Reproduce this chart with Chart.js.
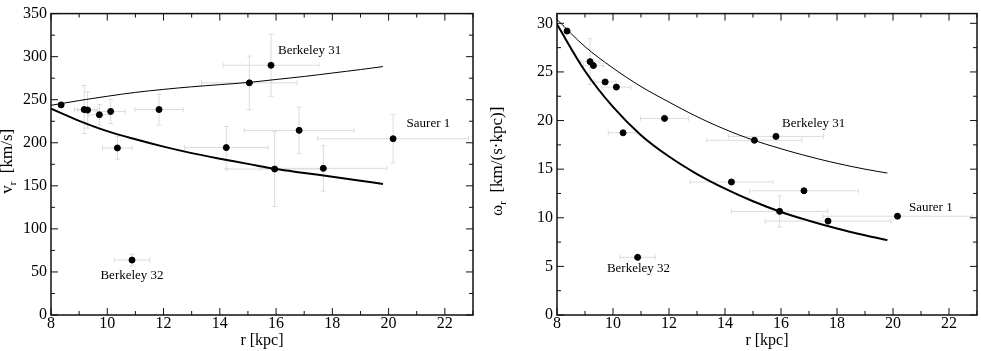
<!DOCTYPE html>
<html lang="en">
<head>
<meta charset="UTF-8">
<title>Rotation curve</title>
<script src="https://cdn.jsdelivr.net/npm/chart.js"></script>
<style>
  body { margin: 0; background: #fff; }
  #wrap { position: relative; width: 981px; height: 351px; }
  .panel { position: absolute; top: 0; height: 351px; }
  #left { left: 0; width: 490px; }
  #right { left: 490px; width: 491px; }
</style>
</head>
<body>
<div id="wrap">
  <div class="panel" id="left"><canvas id="vChart"></canvas></div>
  <div class="panel" id="right"><canvas id="wChart"></canvas></div>
</div>
<script>
// clusters: galactocentric radius, rotation velocity, angular velocity
const radius = [8.36, 9.18, 9.30, 9.72, 10.12, 10.36, 11.84, 14.23, 15.05, 15.82, 16.82, 15.95, 17.68, 20.16, 10.88];
const radiusErr = [0, 0.35, 0.35, 0.38, 0.52, 0.53, 0.86, 1.48, 1.7, 1.7, 1.95, 1.72, 2.25, 2.68, 0.63];
const velocity = [244, 238.6, 238, 232.5, 236.4, 194, 238.6, 194.4, 269.6, 290, 214.4, 169.5, 170.3, 204.7, 63.8];
const velocityErr = [0, 28, 21, 12, 14, 13, 18, 24.5, 31, 36, 27, 43.6, 26.4, 28, 7];
const omega = [29.2, 26.06, 25.65, 23.97, 23.44, 18.74, 20.22, 13.68, 17.97, 18.37, 12.78, 10.66, 9.66, 10.16, 5.93];
const omegaErr = [0, 2.35, 0, 0, 0, 0, 0, 0, 0, 0, 0, 1.6, 0, 0, 0];

// model curves
const modelR = [8, 9, 10, 11, 12, 13, 14, 15, 16, 17, 18, 19, 19.8];
const velocityThin = [243.5, 249, 254, 258.5, 262, 265, 267.5, 270, 273.5, 277, 281, 285, 288.5];
const velocityThick = [239.5, 225.5, 213.5, 204, 195.5, 188, 181.5, 175.5, 169.5, 165, 160.5, 156, 152];
const omegaThin = [30.4, 27.6, 25.4, 23.5, 21.9, 20.4, 19.1, 18.0, 17.1, 16.3, 15.6, 15.0, 14.6];
const omegaThick = [29.9, 25.1, 21.4, 18.5, 16.3, 14.5, 13.0, 11.7, 10.6, 9.7, 8.9, 8.2, 7.7];

// cluster name notes (data coords)
const noteNames = ['Berkeley 31', 'Saurer 1', 'Berkeley 32'];
const noteAlign = ['left', 'left', 'center'];
const velocityNotes = [[16.07, 307], [20.64, 222], [10.88, 45.3]];
const omegaNotes = [[16.04, 19.7], [20.57, 11.0], [10.91, 4.73]];

Chart.defaults.font.family = "'Liberation Serif', 'Times New Roman', serif";
Chart.defaults.font.size = 16;
Chart.defaults.color = '#000';

function pairs(xs, ys) {
    return xs.map((x, i) => ({ x: x, y: ys[i] }));
}

const panelDecor = {
    id: 'panelDecor',
    beforeDatasetsDraw(chart, args, o) {
        const ctx = chart.ctx, sx = chart.scales.x, sy = chart.scales.y;
        ctx.save();
        ctx.strokeStyle = '#dcdcdc';
        ctx.lineWidth = 1;
        const seg = (a, b, c, d) => { ctx.beginPath(); ctx.moveTo(a, b); ctx.lineTo(c, d); ctx.stroke(); };
        o.xs.forEach((r, i) => {
            const px = sx.getPixelForValue(r), py = sy.getPixelForValue(o.ys[i]);
            if (o.xErr[i]) {
                const a = sx.getPixelForValue(r - o.xErr[i]), b = sx.getPixelForValue(r + o.xErr[i]);
                seg(a, py, b, py); seg(a, py - 2.5, a, py + 2.5); seg(b, py - 2.5, b, py + 2.5);
            }
            if (o.yErr[i]) {
                const a = sy.getPixelForValue(o.ys[i] - o.yErr[i]), b = sy.getPixelForValue(o.ys[i] + o.yErr[i]);
                seg(px, a, px, b); seg(px - 2.5, a, px + 2.5, a); seg(px - 2.5, b, px + 2.5, b);
            }
        });
        ctx.restore();
    },
    afterDraw(chart, args, o) {
        const ctx = chart.ctx, sx = chart.scales.x, sy = chart.scales.y;
        const { left, right, top, bottom } = chart.chartArea;
        ctx.save();
        ctx.strokeStyle = '#111';
        ctx.lineWidth = 1.5;
        ctx.strokeRect(left, top, right - left, bottom - top);
        ctx.lineWidth = 1;
        const seg = (a, b, c, d) => { ctx.beginPath(); ctx.moveTo(a, b); ctx.lineTo(c, d); ctx.stroke(); };
        const majX = sx.ticks.map(t => t.value), majY = sy.ticks.map(t => t.value);
        for (let v = sx.min; v <= sx.max + 1e-9; v += o.minorX) {
            const p = sx.getPixelForValue(v);
            const len = majX.some(m => Math.abs(m - v) < 1e-6) ? 7 : 4;
            seg(p, bottom, p, bottom - len); seg(p, top, p, top + len);
        }
        for (let v = sy.min; v <= sy.max + 1e-9; v += o.minorY) {
            const p = sy.getPixelForValue(v);
            const len = majY.some(m => Math.abs(m - v) < 1e-6) ? 7 : 4;
            seg(left, p, left + len, p); seg(right, p, right - len, p);
        }

        // axis titles
        ctx.fillStyle = '#000';
        ctx.textAlign = 'center';
        ctx.textBaseline = 'middle';
        ctx.font = "16px 'Liberation Serif', serif";
        ctx.fillText('r [kpc]', (left + right) / 2, 341);

        ctx.translate(o.titleX, (top + bottom) / 2 - 3);
        ctx.rotate(-Math.PI / 2);
        ctx.textAlign = 'left';
        ctx.textBaseline = 'alphabetic';
        let total = 0;
        o.yTitle.forEach(p => { ctx.font = p.size + "px 'Liberation Serif', serif"; total += ctx.measureText(p.t).width; });
        let u = -total / 2;
        o.yTitle.forEach(p => {
            ctx.font = p.size + "px 'Liberation Serif', serif";
            ctx.fillText(p.t, u, p.sub ? 4 : 0);
            u += ctx.measureText(p.t).width;
        });
        ctx.restore();

        // cluster names
        ctx.save();
        ctx.fillStyle = '#000';
        ctx.font = "13px 'Liberation Serif', serif";
        ctx.textBaseline = 'middle';
        o.notes.forEach((n, i) => {
            ctx.textAlign = noteAlign[i];
            ctx.fillText(noteNames[i], sx.getPixelForValue(n[0]), sy.getPixelForValue(n[1]));
        });
        ctx.restore();
    }
};

function makePanel(id, ys, yErr, thin, thick, yMax, yStep, yMinor, yWidth, padRight, yTitle, notes) {
    return new Chart(document.getElementById(id), {
        data: {
            datasets: [
                { type: 'line', data: pairs(modelR, thin), borderColor: '#000', borderWidth: 1, pointRadius: 0, tension: 0.35, fill: false },
                { type: 'line', data: pairs(modelR, thick), borderColor: '#000', borderWidth: 2, pointRadius: 0, tension: 0.35, fill: false },
                { type: 'scatter', data: pairs(radius, ys), backgroundColor: '#000', borderColor: '#000', pointRadius: 3, pointHoverRadius: 3 }
            ]
        },
        options: {
            responsive: true,
            maintainAspectRatio: false,
            animation: false,
            events: [],
            layout: { padding: { top: 6, right: padRight, left: 0, bottom: 0 } },
            scales: {
                x: {
                    type: 'linear', min: 8, max: 23,
                    grid: { display: false, drawTicks: false },
                    border: { display: false },
                    ticks: { stepSize: 2, includeBounds: false, padding: -1, maxRotation: 0 },
                    afterFit: s => { s.height = 36; }
                },
                y: {
                    type: 'linear', min: 0, max: yMax,
                    grid: { display: false, drawTicks: false },
                    border: { display: false },
                    ticks: { stepSize: yStep, includeBounds: false, padding: 4 },
                    afterFit: s => { s.width = yWidth; }
                }
            },
            plugins: {
                legend: { display: false },
                tooltip: { enabled: false },
                panelDecor: {
                    xs: radius, ys: ys, xErr: radiusErr, yErr: yErr,
                    minorX: 1, minorY: yMinor, titleX: 12, yTitle: yTitle, notes: notes
                }
            }
        },
        plugins: [panelDecor]
    });
}

makePanel('vChart', velocity, velocityErr, velocityThin, velocityThick, 350, 50, 25, 51, 17,
    [{ t: 'v', size: 17 }, { t: 'r', size: 11, sub: true }, { t: '  [km/s]', size: 17 }], velocityNotes);
makePanel('wChart', omega, omegaErr, omegaThin, omegaThick, 31, 5, 2.5, 67, 2,
    [{ t: 'ω', size: 17 }, { t: 'r', size: 11, sub: true }, { t: '  [km/(s·kpc)]', size: 17 }], omegaNotes);
</script>
</body>
</html>
